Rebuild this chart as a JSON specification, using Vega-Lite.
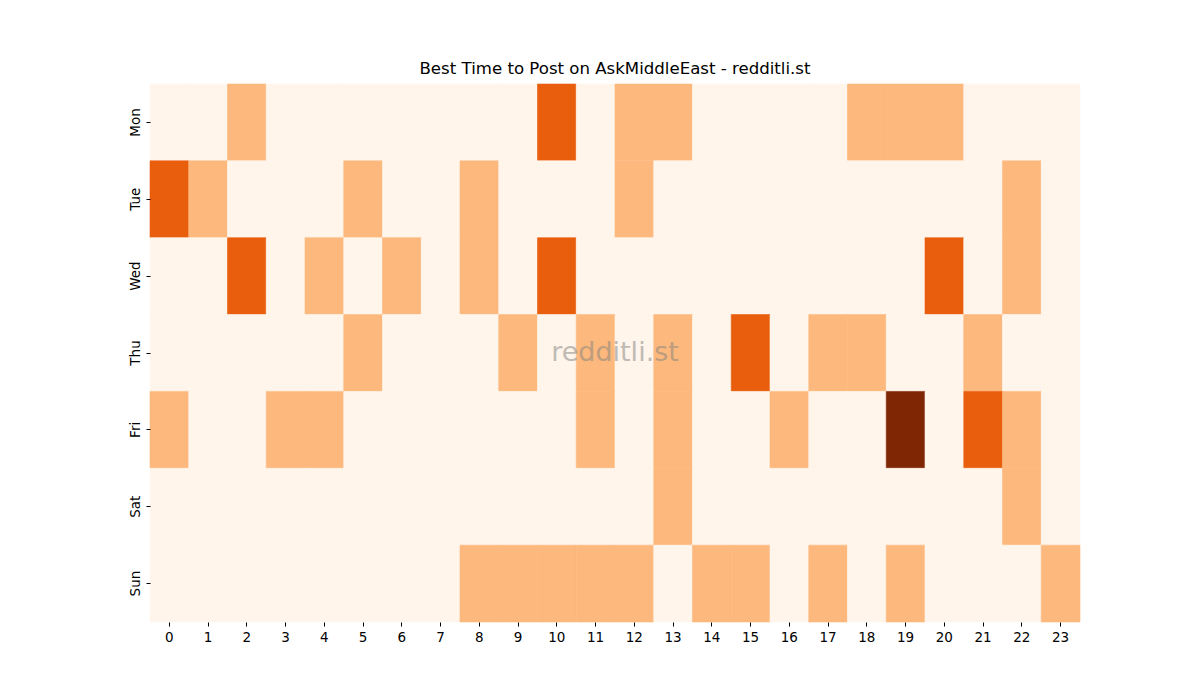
{
  "$schema": "https://vega.github.io/schema/vega-lite/v6.json",
  "autosize": "none",
  "width": 930,
  "height": 538,
  "padding": {"left": 150, "top": 84, "right": 120, "bottom": 78},
  "background": "white",
  "config": {
    "font": "DejaVu Sans",
    "view": {"stroke": null},
    "axis": {"domain": false, "grid": false, "labelFontSize": 13.5, "labelColor": "black", "tickColor": "black", "tickSize": 4, "labelPadding": 4}
  },
  "title": {"text": "Best Time to Post on AskMiddleEast - redditli.st", "fontSize": 16.6, "fontWeight": "normal", "color": "black", "offset": 6},
  "layer": [
    {
      "data": {
        "values": [
          {"day":"Mon","hour":0,"v":0},{"day":"Mon","hour":1,"v":0},{"day":"Mon","hour":2,"v":1},{"day":"Mon","hour":3,"v":0},{"day":"Mon","hour":4,"v":0},{"day":"Mon","hour":5,"v":0},{"day":"Mon","hour":6,"v":0},{"day":"Mon","hour":7,"v":0},{"day":"Mon","hour":8,"v":0},{"day":"Mon","hour":9,"v":0},{"day":"Mon","hour":10,"v":2},{"day":"Mon","hour":11,"v":0},{"day":"Mon","hour":12,"v":1},{"day":"Mon","hour":13,"v":1},{"day":"Mon","hour":14,"v":0},{"day":"Mon","hour":15,"v":0},{"day":"Mon","hour":16,"v":0},{"day":"Mon","hour":17,"v":0},{"day":"Mon","hour":18,"v":1},{"day":"Mon","hour":19,"v":1},{"day":"Mon","hour":20,"v":1},{"day":"Mon","hour":21,"v":0},{"day":"Mon","hour":22,"v":0},{"day":"Mon","hour":23,"v":0},
          {"day":"Tue","hour":0,"v":2},{"day":"Tue","hour":1,"v":1},{"day":"Tue","hour":2,"v":0},{"day":"Tue","hour":3,"v":0},{"day":"Tue","hour":4,"v":0},{"day":"Tue","hour":5,"v":1},{"day":"Tue","hour":6,"v":0},{"day":"Tue","hour":7,"v":0},{"day":"Tue","hour":8,"v":1},{"day":"Tue","hour":9,"v":0},{"day":"Tue","hour":10,"v":0},{"day":"Tue","hour":11,"v":0},{"day":"Tue","hour":12,"v":1},{"day":"Tue","hour":13,"v":0},{"day":"Tue","hour":14,"v":0},{"day":"Tue","hour":15,"v":0},{"day":"Tue","hour":16,"v":0},{"day":"Tue","hour":17,"v":0},{"day":"Tue","hour":18,"v":0},{"day":"Tue","hour":19,"v":0},{"day":"Tue","hour":20,"v":0},{"day":"Tue","hour":21,"v":0},{"day":"Tue","hour":22,"v":1},{"day":"Tue","hour":23,"v":0},
          {"day":"Wed","hour":0,"v":0},{"day":"Wed","hour":1,"v":0},{"day":"Wed","hour":2,"v":2},{"day":"Wed","hour":3,"v":0},{"day":"Wed","hour":4,"v":1},{"day":"Wed","hour":5,"v":0},{"day":"Wed","hour":6,"v":1},{"day":"Wed","hour":7,"v":0},{"day":"Wed","hour":8,"v":1},{"day":"Wed","hour":9,"v":0},{"day":"Wed","hour":10,"v":2},{"day":"Wed","hour":11,"v":0},{"day":"Wed","hour":12,"v":0},{"day":"Wed","hour":13,"v":0},{"day":"Wed","hour":14,"v":0},{"day":"Wed","hour":15,"v":0},{"day":"Wed","hour":16,"v":0},{"day":"Wed","hour":17,"v":0},{"day":"Wed","hour":18,"v":0},{"day":"Wed","hour":19,"v":0},{"day":"Wed","hour":20,"v":2},{"day":"Wed","hour":21,"v":0},{"day":"Wed","hour":22,"v":1},{"day":"Wed","hour":23,"v":0},
          {"day":"Thu","hour":0,"v":0},{"day":"Thu","hour":1,"v":0},{"day":"Thu","hour":2,"v":0},{"day":"Thu","hour":3,"v":0},{"day":"Thu","hour":4,"v":0},{"day":"Thu","hour":5,"v":1},{"day":"Thu","hour":6,"v":0},{"day":"Thu","hour":7,"v":0},{"day":"Thu","hour":8,"v":0},{"day":"Thu","hour":9,"v":1},{"day":"Thu","hour":10,"v":0},{"day":"Thu","hour":11,"v":1},{"day":"Thu","hour":12,"v":0},{"day":"Thu","hour":13,"v":1},{"day":"Thu","hour":14,"v":0},{"day":"Thu","hour":15,"v":2},{"day":"Thu","hour":16,"v":0},{"day":"Thu","hour":17,"v":1},{"day":"Thu","hour":18,"v":1},{"day":"Thu","hour":19,"v":0},{"day":"Thu","hour":20,"v":0},{"day":"Thu","hour":21,"v":1},{"day":"Thu","hour":22,"v":0},{"day":"Thu","hour":23,"v":0},
          {"day":"Fri","hour":0,"v":1},{"day":"Fri","hour":1,"v":0},{"day":"Fri","hour":2,"v":0},{"day":"Fri","hour":3,"v":1},{"day":"Fri","hour":4,"v":1},{"day":"Fri","hour":5,"v":0},{"day":"Fri","hour":6,"v":0},{"day":"Fri","hour":7,"v":0},{"day":"Fri","hour":8,"v":0},{"day":"Fri","hour":9,"v":0},{"day":"Fri","hour":10,"v":0},{"day":"Fri","hour":11,"v":1},{"day":"Fri","hour":12,"v":0},{"day":"Fri","hour":13,"v":1},{"day":"Fri","hour":14,"v":0},{"day":"Fri","hour":15,"v":0},{"day":"Fri","hour":16,"v":1},{"day":"Fri","hour":17,"v":0},{"day":"Fri","hour":18,"v":0},{"day":"Fri","hour":19,"v":3},{"day":"Fri","hour":20,"v":0},{"day":"Fri","hour":21,"v":2},{"day":"Fri","hour":22,"v":1},{"day":"Fri","hour":23,"v":0},
          {"day":"Sat","hour":0,"v":0},{"day":"Sat","hour":1,"v":0},{"day":"Sat","hour":2,"v":0},{"day":"Sat","hour":3,"v":0},{"day":"Sat","hour":4,"v":0},{"day":"Sat","hour":5,"v":0},{"day":"Sat","hour":6,"v":0},{"day":"Sat","hour":7,"v":0},{"day":"Sat","hour":8,"v":0},{"day":"Sat","hour":9,"v":0},{"day":"Sat","hour":10,"v":0},{"day":"Sat","hour":11,"v":0},{"day":"Sat","hour":12,"v":0},{"day":"Sat","hour":13,"v":1},{"day":"Sat","hour":14,"v":0},{"day":"Sat","hour":15,"v":0},{"day":"Sat","hour":16,"v":0},{"day":"Sat","hour":17,"v":0},{"day":"Sat","hour":18,"v":0},{"day":"Sat","hour":19,"v":0},{"day":"Sat","hour":20,"v":0},{"day":"Sat","hour":21,"v":0},{"day":"Sat","hour":22,"v":1},{"day":"Sat","hour":23,"v":0},
          {"day":"Sun","hour":0,"v":0},{"day":"Sun","hour":1,"v":0},{"day":"Sun","hour":2,"v":0},{"day":"Sun","hour":3,"v":0},{"day":"Sun","hour":4,"v":0},{"day":"Sun","hour":5,"v":0},{"day":"Sun","hour":6,"v":0},{"day":"Sun","hour":7,"v":0},{"day":"Sun","hour":8,"v":1},{"day":"Sun","hour":9,"v":1},{"day":"Sun","hour":10,"v":1},{"day":"Sun","hour":11,"v":1},{"day":"Sun","hour":12,"v":1},{"day":"Sun","hour":13,"v":0},{"day":"Sun","hour":14,"v":1},{"day":"Sun","hour":15,"v":1},{"day":"Sun","hour":16,"v":0},{"day":"Sun","hour":17,"v":1},{"day":"Sun","hour":18,"v":0},{"day":"Sun","hour":19,"v":1},{"day":"Sun","hour":20,"v":0},{"day":"Sun","hour":21,"v":0},{"day":"Sun","hour":22,"v":0},{"day":"Sun","hour":23,"v":1}
        ]
      },
      "mark": {"type": "rect", "strokeWidth": 0.6},
      "encoding": {
        "x": {"field": "hour", "type": "ordinal", "title": null, "scale": {"paddingInner": 0, "paddingOuter": 0}, "axis": {"labelAngle": 0}},
        "y": {"field": "day", "type": "ordinal", "title": null, "scale": {"domain": ["Mon","Tue","Wed","Thu","Fri","Sat","Sun"], "paddingInner": 0, "paddingOuter": 0}, "axis": {"labelAngle": -90, "labelAlign": "center", "labelBaseline": "bottom"}},
        "color": {"field": "v", "type": "ordinal", "legend": null, "scale": {"domain": [0,1,2,3], "range": ["#fff5eb","#fdb97d","#e95e0d","#7f2704"]}},
        "stroke": {"field": "v", "type": "ordinal", "legend": null, "scale": {"domain": [0,1,2,3], "range": ["#fff5eb","#fdb97d","#e95e0d","#7f2704"]}}
      }
    },
    {
      "data": {"values": [{"label": "redditli.st", "hour": 12, "day": "Thu"}]},
      "mark": {"type": "text", "fontSize": 27, "color": "#808080", "opacity": 0.5, "align": "center", "baseline": "middle"},
      "encoding": {
        "x": {"field": "hour", "type": "ordinal", "bandPosition": 0},
        "y": {"field": "day", "type": "ordinal"},
        "text": {"field": "label"}
      }
    }
  ]
}
